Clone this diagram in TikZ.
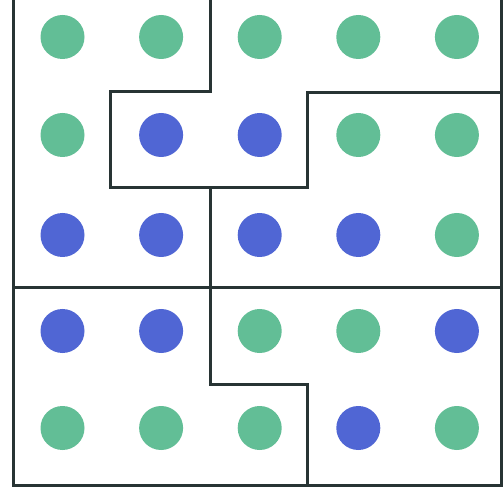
\documentclass[tikz,border=0pt]{standalone}
\definecolor{dotgreen}{RGB}{98,190,150}
\definecolor{dotblue}{RGB}{80,102,212}
\definecolor{wall}{RGB}{40,52,52}
\tikzset{
  dot/.style={circle,inner sep=0pt,minimum size=44pt},
  g/.style={dot,fill=dotgreen},
  b/.style={dot,fill=dotblue},
  wallline/.style={draw=wall,line width=3pt,line cap=rect,line join=miter}
}
\begin{document}
\begin{tikzpicture}[x=1pt,y=-1pt]
\useasboundingbox (0,0) rectangle (503,502);
\fill[white] (0,0) rectangle (503,502);
% dots
\foreach \r/\yy/\row in {1/37/{g,g,g,g,g},2/135/{g,b,b,g,g},3/235/{b,b,b,b,g},4/331/{b,b,g,g,b},5/428/{g,g,g,b,g}}{
  \foreach \s [count=\c] in \row {
    \pgfmathsetmacro{\xx}{62.5+(\c-1)*98.6}
    \node[\s] (d\r\c) at (\xx,\yy) {};
  }
}
% walls
\draw[wallline] (13,-2) -- (13,485) -- (501,485) -- (501,-2);
\draw[wallline] (210,-2) -- (210,92) -- (110,92) -- (110,188) -- (307,188) -- (307,93) -- (503,93);
\draw[wallline] (210,188) -- (210,384) -- (307,384) -- (307,485);
\draw[wallline] (13,288) -- (501,288);
\end{tikzpicture}
\end{document}
